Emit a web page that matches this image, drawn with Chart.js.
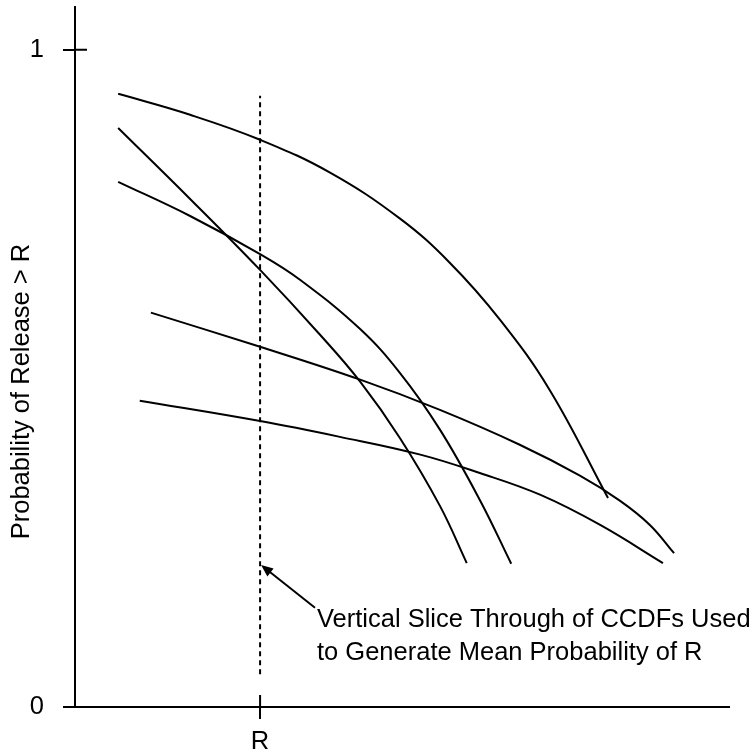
<!DOCTYPE html>
<html>
<head>
<meta charset="utf-8">
<script src="https://cdn.jsdelivr.net/npm/chart.js@4/dist/chart.umd.min.js"></script>
<style>
  body { margin: 0; background: #fff; }
</style>
</head>
<body>
<canvas id="ccdfChart" width="752" height="753"></canvas>
<script>
// valeurs (x en unites arbitraires 0..100, y = probabilite)
const curveAx = [6.6, 17.6, 28.3, 39.0, 49.7, 57.3, 65.0, 72.6, 81.5];
const curveAy = [0.933, 0.901, 0.863, 0.813, 0.743, 0.676, 0.589, 0.482, 0.318];

const curveBx = [6.6, 17.6, 28.3, 37.5, 43.6, 49.7, 55.8, 59.9];
const curveBy = [0.881, 0.773, 0.665, 0.566, 0.495, 0.409, 0.306, 0.219];

const curveCx = [6.6, 17.6, 28.3, 34.4, 43.6, 49.7, 55.8, 61.9, 66.7];
const curveCy = [0.799, 0.747, 0.689, 0.650, 0.575, 0.508, 0.422, 0.315, 0.218];

const curveDx = [11.6, 28.3, 43.6, 55.8, 68.0, 77.2, 83.3, 87.9, 91.6];
const curveDy = [0.600, 0.548, 0.498, 0.452, 0.399, 0.352, 0.314, 0.277, 0.234];

const curveEx = [9.9, 28.3, 40.5, 52.8, 61.9, 71.1, 80.3, 89.9];
const curveEy = [0.466, 0.435, 0.411, 0.384, 0.356, 0.323, 0.277, 0.219];

const sliceR = 28.3;
const sliceY = [0.05, 0.93];
const yTicks = [0, 1];
const xTickLabel = 'R';
const yTitle = 'Probability of Release > R';
const noteLines = ['Vertical Slice Through of CCDFs Used', 'to Generate Mean Probability of R'];

const FONT = '"Liberation Sans", Arial, sans-serif';
Chart.defaults.font.family = FONT;
Chart.defaults.color = '#000';

//Function qui assemble les points d'une courbe
function toPoints(xs, ys){
    return xs.map((x, i) => ({ x: x, y: ys[i] }));
}

function curve(xs, ys){
    return {
        data: toPoints(xs, ys),
        borderColor: '#000',
        borderWidth: 2,
        pointRadius: 0,
        fill: false,
        tension: 0.4
    };
}

// petits traits interieurs, titre vertical, fleche et texte
const extras = {
    id: 'extras',
    afterDraw(chart){
        const ctx = chart.ctx;
        const xs = chart.scales.x;
        const ys = chart.scales.y;
        const area = chart.chartArea;
        ctx.save();
        ctx.strokeStyle = '#000';
        ctx.fillStyle = '#000';
        ctx.lineWidth = 2;

        // partie interieure des graduations
        const y1 = ys.getPixelForValue(1);
        ctx.beginPath();
        ctx.moveTo(area.left, y1);
        ctx.lineTo(area.left + 12, y1);
        const xr = xs.getPixelForValue(sliceR);
        ctx.moveTo(xr, area.bottom);
        ctx.lineTo(xr, area.bottom - 12);
        ctx.stroke();

        // titre de l'axe y
        ctx.save();
        ctx.translate(22, ys.getPixelForValue(0.48));
        ctx.rotate(-Math.PI / 2);
        ctx.font = '25.5px ' + FONT;
        ctx.textAlign = 'center';
        ctx.textBaseline = 'middle';
        ctx.fillText(yTitle, 0, 0);
        ctx.restore();

        // fleche
        const tx = xs.getPixelForValue(36.7), ty = ys.getPixelForValue(0.151);
        const hx = xs.getPixelForValue(sliceR) + 1, hy = ys.getPixelForValue(0.216);
        const ang = Math.atan2(hy - ty, hx - tx);
        ctx.lineWidth = 2;
        ctx.beginPath();
        ctx.moveTo(tx, ty);
        ctx.lineTo(hx - 8 * Math.cos(ang), hy - 8 * Math.sin(ang));
        ctx.stroke();
        ctx.beginPath();
        ctx.moveTo(hx, hy);
        ctx.lineTo(hx - 12 * Math.cos(ang) + 5 * Math.sin(ang), hy - 12 * Math.sin(ang) - 5 * Math.cos(ang));
        ctx.lineTo(hx - 12 * Math.cos(ang) - 5 * Math.sin(ang), hy - 12 * Math.sin(ang) + 5 * Math.cos(ang));
        ctx.closePath();
        ctx.fill();

        // texte d'annotation
        ctx.font = '25.5px ' + FONT;
        ctx.textAlign = 'left';
        ctx.textBaseline = 'alphabetic';
        const nx = xs.getPixelForValue(37.0);
        ctx.fillText(noteLines[0], nx, ys.getPixelForValue(0.122));
        ctx.fillText(noteLines[1], nx, ys.getPixelForValue(0.072));
        ctx.restore();
    }
};

const ctx1 = document.getElementById('ccdfChart').getContext('2d');
const ccdfChart = new Chart(ctx1, {
    type: 'line',
    data: {
        datasets: [
            curve(curveAx, curveAy),
            curve(curveBx, curveBy),
            curve(curveCx, curveCy),
            curve(curveDx, curveDy),
            curve(curveEx, curveEy),
            {
                data: sliceY.map(y => ({ x: sliceR, y: y })),
                borderColor: '#000',
                borderWidth: 2,
                borderDash: [5, 4],
                pointRadius: 0,
                fill: false,
                tension: 0
            }
        ]
    },
    options: {
        responsive: false,
        animation: false,
        layout: { padding: { top: 7, right: 23, left: 0, bottom: 0 } },
        plugins: {
            legend: { display: false },
            tooltip: { enabled: false }
        },
        scales: {
            x: {
                type: 'linear',
                min: 0,
                max: 100,
                afterBuildTicks: scale => { scale.ticks = [{ value: sliceR }]; },
                afterFit: scale => {
                    scale.height = 46;
                    scale.paddingLeft = 0;
                    scale.paddingRight = 0;
                },
                ticks: {
                    callback: () => xTickLabel,
                    font: { size: 25.5 },
                    padding: 8,
                    maxRotation: 0
                },
                grid: { drawOnChartArea: false, tickLength: 12, color: '#000', lineWidth: 2 },
                border: { color: '#000', width: 2 }
            },
            y: {
                min: 0,
                max: 1.065,
                afterBuildTicks: scale => { scale.ticks = yTicks.map(v => ({ value: v })); },
                afterFit: scale => {
                    scale.width = 75;
                    scale.paddingTop = 0;
                    scale.paddingBottom = 0;
                },
                ticks: {
                    callback: v => String(v),
                    font: { size: 25.5 },
                    padding: 19
                },
                grid: { drawOnChartArea: false, tickLength: 12, color: '#000', lineWidth: 2 },
                border: { color: '#000', width: 2 }
            }
        }
    },
    plugins: [extras]
});
</script>
</body>
</html>
